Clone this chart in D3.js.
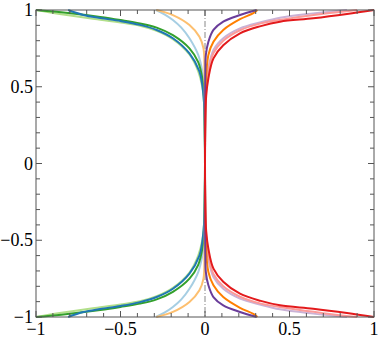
<!DOCTYPE html>
<html>
<head>
<meta charset="utf-8">
<script src="https://cdn.jsdelivr.net/npm/d3@7"></script>
<style>
  body { margin: 0; background: #fff; }
  text { font-family: "Liberation Serif", "DejaVu Serif", serif; font-size: 18px; fill: #000; }
</style>
</head>
<body>
<svg id="chart" width="380" height="338"></svg>
<script>
// tick labels
const xTickValues = [-1, -0.5, 0, 0.5, 1];
const yTickValues = [-1, -0.5, 0, 0.5, 1];
const minorTicks = d3.range(-10, 11).map(i => i / 10);

// each curve is given for its upper half as [x, y], y from 0 to 1; the lower half is its mirror
const lightBluePts = [[0, 0], [-0.002, 0.3], [-0.006, 0.5], [-0.016, 0.6], [-0.04, 0.707], [-0.092, 0.816], [-0.14, 0.885], [-0.19, 0.935], [-0.24, 0.972], [-0.29, 1]];
const darkBluePts = [[0, 0], [-0.002, 0.25], [-0.006, 0.4], [-0.016, 0.51], [-0.033, 0.6], [-0.092, 0.717], [-0.19, 0.816], [-0.286, 0.87], [-0.385, 0.903], [-0.5, 0.928], [-0.62, 0.948], [-0.72, 0.968], [-0.81, 1]];
const lightGreenPts = [[0, 0], [-0.002, 0.25], [-0.006, 0.4], [-0.016, 0.5], [-0.04, 0.6], [-0.092, 0.71], [-0.19, 0.81], [-0.286, 0.865], [-0.385, 0.898], [-0.5, 0.918], [-0.62, 0.936], [-0.85, 0.972], [-1, 1]];
const greenPts = [[0, 0], [-0.002, 0.28], [-0.006, 0.44], [-0.016, 0.555], [-0.04, 0.66], [-0.092, 0.75], [-0.19, 0.836], [-0.286, 0.885], [-0.385, 0.913], [-0.5, 0.935], [-0.62, 0.955], [-0.85, 0.985], [-1, 1]];
const pinkPts = [[0, 0], [0.002, 0.3], [0.006, 0.47], [0.02, 0.6], [0.05, 0.72], [0.108, 0.8], [0.207, 0.868], [0.33, 0.913], [0.5, 0.945], [0.7, 0.975], [0.9, 1]];
const redPts = [[0, 0], [0.002, 0.28], [0.007, 0.44], [0.02, 0.555], [0.05, 0.685], [0.108, 0.77], [0.207, 0.848], [0.33, 0.895], [0.444, 0.924], [0.64, 0.946], [0.84, 0.974], [1, 1]];
const lightOrangePts = [[0, 0], [-0.001, 0.4], [-0.003, 0.6], [-0.009, 0.75], [-0.033, 0.826], [-0.092, 0.902], [-0.19, 0.967], [-0.288, 1]];
const orangePts = [[0, 0], [0.001, 0.3], [0.004, 0.5], [0.02, 0.707], [0.05, 0.793], [0.108, 0.87], [0.207, 0.94], [0.286, 0.98], [0.31, 1]];
const lightPurplePts = [[0, 0], [0.002, 0.3], [0.006, 0.48], [0.02, 0.62], [0.05, 0.74], [0.108, 0.816], [0.207, 0.88], [0.33, 0.92], [0.444, 0.95], [0.64, 0.978], [0.84, 1]];
const purplePts = [[0, 0], [0.001, 0.4], [0.002, 0.6], [0.005, 0.707], [0.02, 0.793], [0.05, 0.87], [0.108, 0.924], [0.207, 0.967], [0.305, 1]];

const curves = [
    {pts: lightBluePts, color: "#a6cee3"},
    {pts: lightGreenPts, color: "#b2df8a"},
    {pts: greenPts, color: "#33a02c"},
    {pts: darkBluePts, color: "#1f78b4"},
    {pts: lightOrangePts, color: "#fdbf6f"},
    {pts: lightPurplePts, color: "#cab2d6"},
    {pts: pinkPts, color: "#fb9a99"},
    {pts: orangePts, color: "#ff7f00"},
    {pts: purplePts, color: "#6a3d9a"},
    {pts: redPts, color: "#e31a1c"}
];

const svg = d3.select('#chart');
const margin = {left: 36, right: 6, top: 10, bottom: 21};
const width = 380 - margin.left - margin.right;
const height = 338 - margin.top - margin.bottom;

const x = d3.scaleLinear().domain([-1, 1]).range([0, width]);
const y = d3.scaleLinear().domain([-1, 1]).range([height, 0]);

const g = svg.append('g').attr('transform', `translate(${margin.left},${margin.top})`);

// dash-dot line at x = 0
g.append('line')
    .attr('x1', x(0)).attr('x2', x(0))
    .attr('y1', 0).attr('y2', height)
    .attr('stroke', '#888')
    .attr('stroke-width', 1)
    .attr('stroke-dasharray', '6,2,1,2');

const line = d3.line()
    .x(d => x(d[0]))
    .y(d => y(d[1]))
    .curve(d3.curveCatmullRom.alpha(0.5));

curves.forEach(c => {
    // lower half mirrored, then upper half
    const lower = c.pts.slice(1).map(p => [p[0], -p[1]]).reverse();
    const full = lower.concat(c.pts);
    g.append('path')
        .datum(full)
        .attr('d', line)
        .attr('fill', 'none')
        .attr('stroke', c.color)
        .attr('stroke-width', 2);
});

// frame with inward ticks
const axisColor = '#555';
const tickSmall = 4, tickBig = 6;
const frame = g.append('g').attr('stroke', axisColor).attr('stroke-width', 1);
frame.append('rect')
    .attr('x', 0).attr('y', 0)
    .attr('width', width).attr('height', height)
    .attr('fill', 'none');

minorTicks.forEach(t => {
    const big = xTickValues.includes(t);
    const len = big ? tickBig : tickSmall;
    frame.append('line').attr('x1', x(t)).attr('x2', x(t)).attr('y1', height).attr('y2', height - len);
    frame.append('line').attr('x1', x(t)).attr('x2', x(t)).attr('y1', 0).attr('y2', len);
    frame.append('line').attr('y1', y(t)).attr('y2', y(t)).attr('x1', 0).attr('x2', len);
    frame.append('line').attr('y1', y(t)).attr('y2', y(t)).attr('x1', width).attr('x2', width - len);
});

// tick labels
const fmt = d => d3.format('')(d);
g.selectAll('.xlabel')
    .data(xTickValues)
    .enter().append('text')
    .attr('class', 'xlabel')
    .attr('x', d => x(d))
    .attr('y', height + 18)
    .attr('text-anchor', 'middle')
    .text(fmt);

g.selectAll('.ylabel')
    .data(yTickValues)
    .enter().append('text')
    .attr('class', 'ylabel')
    .attr('x', -3)
    .attr('y', d => y(d) + 6)
    .attr('text-anchor', 'end')
    .text(fmt);
</script>
</body>
</html>
